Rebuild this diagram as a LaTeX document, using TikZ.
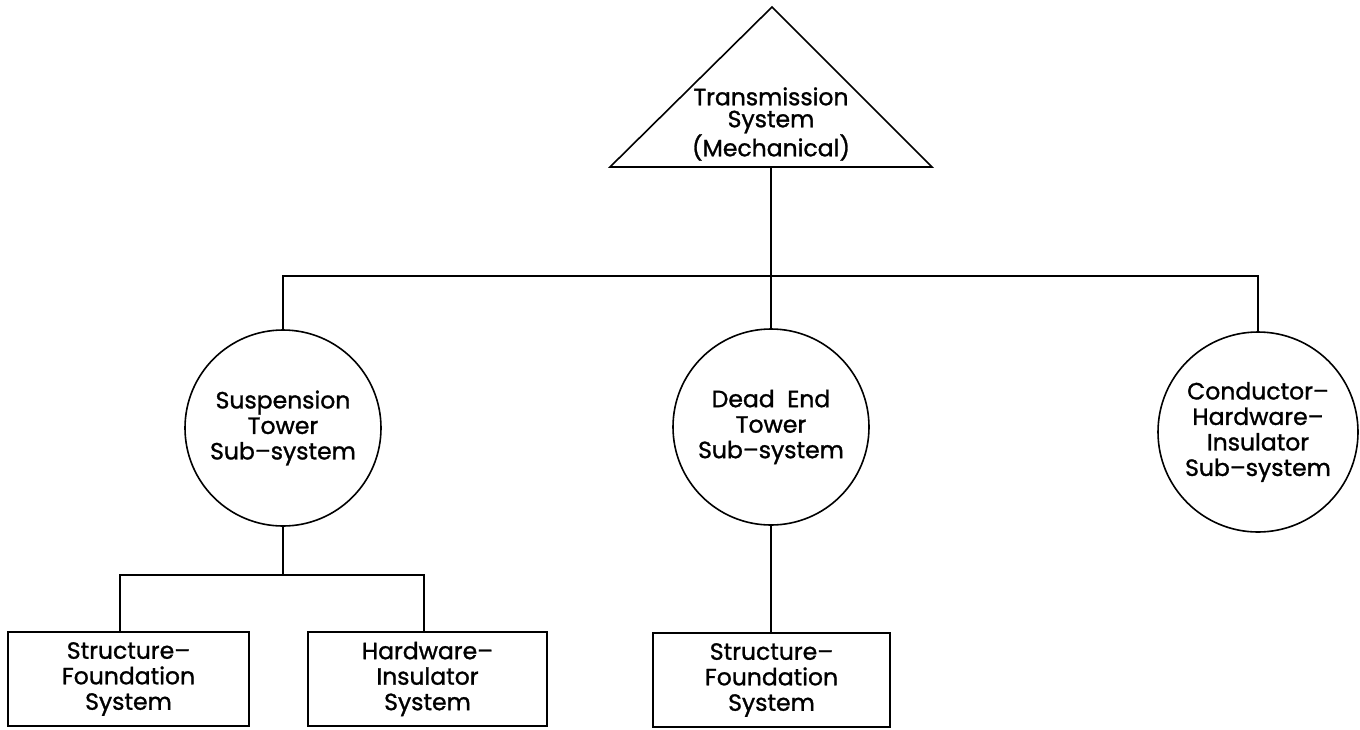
\documentclass[tikz,border=0pt]{standalone}
\usepackage{fontspec}
\newfontfamily\cadfont{Poppins}[FakeBold=1.2]
\begin{document}
\begin{tikzpicture}[x=1pt,y=-1pt,
  ln/.style={line width=1.6pt},
  txt/.style={font=\cadfont\fontsize{23.5}{25.5}\selectfont, align=center, inner sep=0pt},
  subsys/.style={txt, circle, draw, ln, minimum size=196pt},
  leaf/.style={txt, rectangle, draw, ln, minimum width=240pt, minimum height=94pt}]
\useasboundingbox (0,0) rectangle (1360,729);
% top triangle
\coordinate (apex) at (772,7);
\coordinate (bl) at (610,167);
\coordinate (br) at (932,167);
\coordinate (tbase) at (771,167);
\draw[ln, line join=miter] (bl) -- (apex) -- (br) -- cycle;
\node[txt, font=\cadfont\fontsize{23.5}{22}\selectfont] (tsys) at (771,124) {Transmission\\System\\(Mechanical)};
% sub-systems
\node[subsys] (sus) at (283,428) {Suspension\\Tower\\Sub–system};
\node[subsys] (dead) at (771,427) {Dead\ \ End\\Tower\\Sub–system};
\node[subsys, minimum size=200pt] (cond) at (1258,432) {Conductor–\\Hardware–\\Insulator\\Sub–system};
% leaves
\node[leaf, minimum width=241pt] (sf1) at (128.5,679) {Structure–\\Foundation\\System};
\node[leaf, minimum width=239pt] (hi) at (427.5,679) {Hardware–\\Insulator\\System};
\node[leaf, minimum width=237pt] (sf2) at (771.5,680) {Structure–\\Foundation\\System};
% connectors
\coordinate (j1) at (771,276);
\draw[ln] (tbase) -- (j1);
\draw[ln] (sus.north) -- (sus.north |- j1) -- (cond.north |- j1) -- (cond.north);
\draw[ln] (j1) -- (dead.north);
\coordinate (j2) at (283,575);
\coordinate (j2l) at (120,575);
\coordinate (j2r) at (424,575);
\draw[ln] (sus.south) -- (j2);
\draw[ln] (j2l |- sf1.north) -- (j2l) -- (j2r) -- (j2r |- hi.north);
\draw[ln] (dead.south) -- (dead.south |- sf2.north);
\end{tikzpicture}
\end{document}
